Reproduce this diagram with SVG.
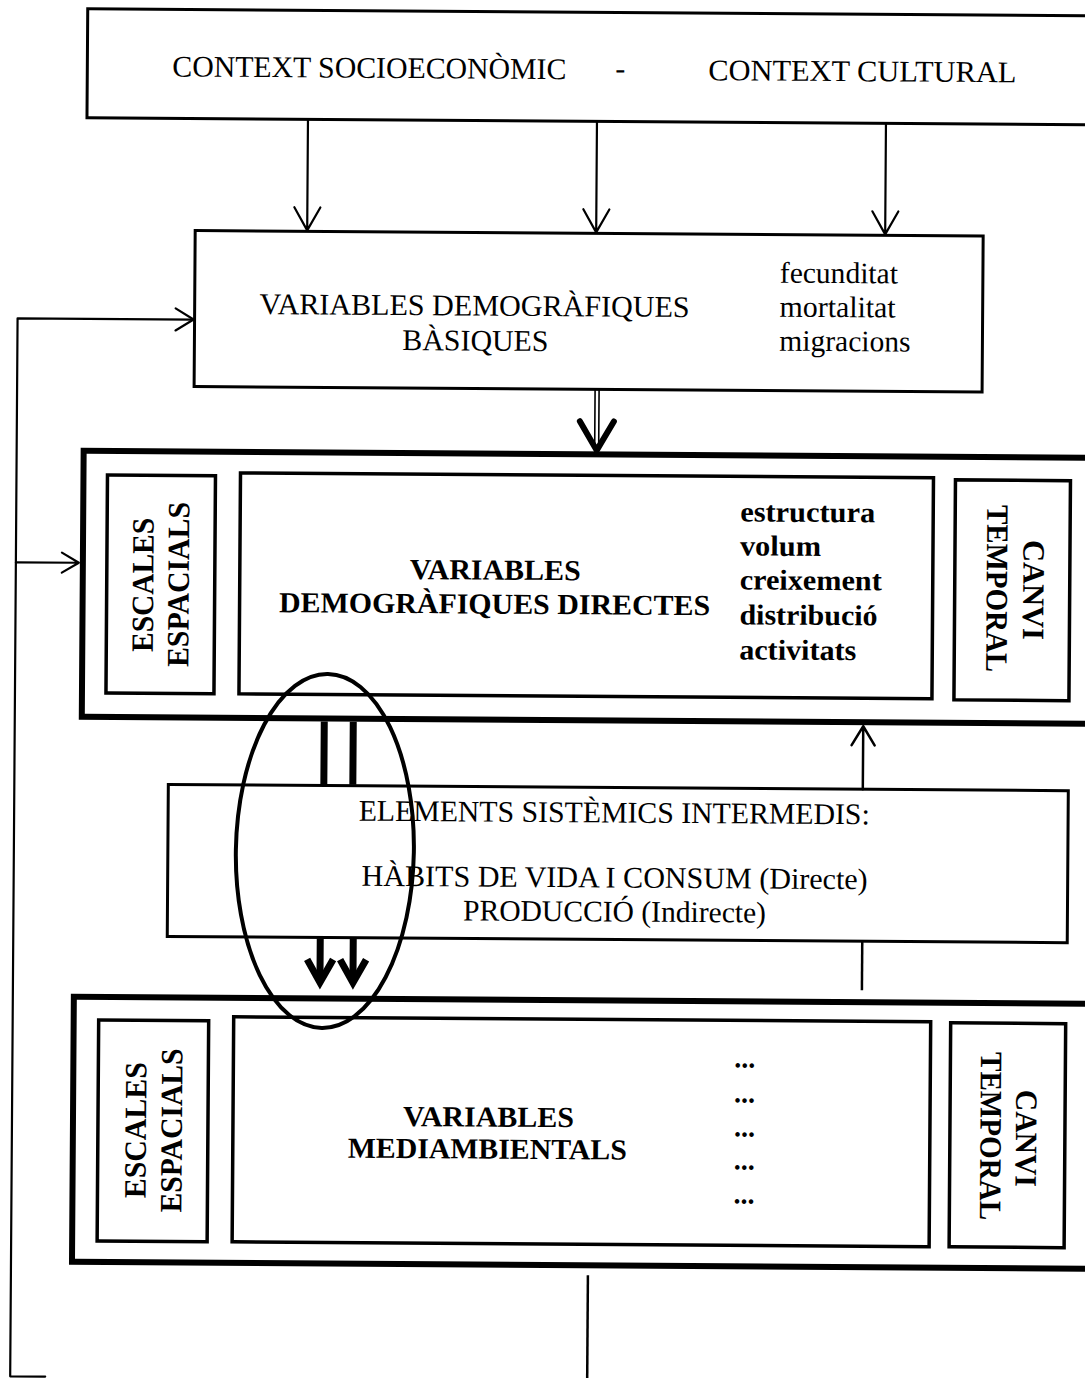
<svg xmlns="http://www.w3.org/2000/svg" width="1085" height="1378" viewBox="0 0 1085 1378">
<style>
.t{font-family:"Liberation Serif","Times New Roman",serif;font-size:30px;fill:#000}
.b{font-weight:bold;font-size:29px}
.r{font-size:31px}
.box{fill:#fff;stroke:#000;stroke-width:3}
.in{fill:#fff;stroke:#000;stroke-width:3.5}
.thick{fill:#fff;stroke:#000;stroke-width:6}
.ln{fill:none;stroke:#000;stroke-width:2.2;stroke-linecap:round;stroke-linejoin:round}
.hv{fill:none;stroke:#000;stroke-width:7;stroke-linecap:butt;stroke-linejoin:miter}
</style>
<rect width="1085" height="1378" fill="#fff"/>
<g transform="rotate(0.4 542 689)">
<g id="context">
<rect class="box" x="83" y="12" width="1020" height="109"/>
<text class="t" x="168" y="79" textLength="394" lengthAdjust="spacingAndGlyphs">CONTEXT SOCIOECONÒMIC</text>
<text class="t" x="616" y="78" text-anchor="middle">-</text>
<text class="t" x="704" y="79" textLength="308" lengthAdjust="spacingAndGlyphs">CONTEXT CULTURAL</text>
</g>
<g id="basiques">
<rect class="box" x="192" y="233" width="788" height="156"/>
<text class="t" x="257" y="316" textLength="430" lengthAdjust="spacingAndGlyphs">VARIABLES DEMOGRÀFIQUES</text>
<text class="t" x="400" y="351" textLength="146" lengthAdjust="spacingAndGlyphs">BÀSIQUES</text>
<text class="t" x="777" y="281" textLength="118" lengthAdjust="spacingAndGlyphs">fecunditat</text>
<text class="t" x="777" y="315" textLength="116" lengthAdjust="spacingAndGlyphs">mortalitat</text>
<text class="t" x="777" y="349" textLength="131" lengthAdjust="spacingAndGlyphs">migracions</text>
</g>
<g id="directes">
<rect class="thick" x="82" y="454" width="1020" height="266"/>
<rect class="in" x="106" y="478" width="108" height="218"/>
<rect class="in" x="239" y="475" width="693" height="221"/>
<rect class="in" x="954" y="477" width="115" height="220"/>
<text class="t b r" transform="translate(152.5 587.7) rotate(-90)" text-anchor="middle" textLength="134" lengthAdjust="spacingAndGlyphs">ESCALES</text>
<text class="t b r" transform="translate(188 587) rotate(-90)" text-anchor="middle" textLength="165" lengthAdjust="spacingAndGlyphs">ESPACIALS</text>
<text class="t b" x="409" y="580" textLength="171" lengthAdjust="spacingAndGlyphs">VARIABLES</text>
<text class="t b" x="278.5" y="614" textLength="431" lengthAdjust="spacingAndGlyphs">DEMOGRÀFIQUES DIRECTES</text>
<text class="t b" x="739" y="520" textLength="135" lengthAdjust="spacingAndGlyphs">estructura</text>
<text class="t b" x="739" y="554" textLength="81" lengthAdjust="spacingAndGlyphs">volum</text>
<text class="t b" x="739" y="588" textLength="142" lengthAdjust="spacingAndGlyphs">creixement</text>
<text class="t b" x="739" y="623" textLength="138" lengthAdjust="spacingAndGlyphs">distribució</text>
<text class="t b" x="739" y="658" textLength="117" lengthAdjust="spacingAndGlyphs">activitats</text>
<text class="t b r" transform="translate(1022.5 586.6) rotate(90)" text-anchor="middle" textLength="100" lengthAdjust="spacingAndGlyphs">CANVI</text>
<text class="t b r" transform="translate(986 585.4) rotate(90)" text-anchor="middle" textLength="167" lengthAdjust="spacingAndGlyphs">TEMPORAL</text>
</g>
<g id="intermedis">
<rect class="box" x="169" y="787" width="900" height="152"/>
<text class="t" x="359.6" y="822" textLength="511" lengthAdjust="spacingAndGlyphs">ELEMENTS SISTÈMICS INTERMEDIS:</text>
<text class="t" x="363" y="887" textLength="506" lengthAdjust="spacingAndGlyphs">HÀBITS DE VIDA I CONSUM (Directe)</text>
<text class="t" x="464.6" y="921" textLength="303" lengthAdjust="spacingAndGlyphs">PRODUCCIÓ (Indirecte)</text>
</g>
<g id="mediambientals">
<rect class="thick" x="76" y="1000" width="1030" height="265"/>
<rect class="in" x="101" y="1023" width="110" height="221"/>
<rect class="in" x="236" y="1019" width="697" height="225"/>
<rect class="in" x="953" y="1020" width="115" height="224"/>
<text class="t b r" transform="translate(149 1133) rotate(-90)" text-anchor="middle" textLength="136" lengthAdjust="spacingAndGlyphs">ESCALES</text>
<text class="t b r" transform="translate(185 1133) rotate(-90)" text-anchor="middle" textLength="164" lengthAdjust="spacingAndGlyphs">ESPACIALS</text>
<text class="t b" x="406" y="1127" textLength="171" lengthAdjust="spacingAndGlyphs">VARIABLES</text>
<text class="t b" x="351" y="1159" textLength="279" lengthAdjust="spacingAndGlyphs">MEDIAMBIENTALS</text>
<text class="t b" x="737" y="1066" textLength="21" lengthAdjust="spacingAndGlyphs">...</text>
<text class="t b" x="737" y="1101" textLength="21" lengthAdjust="spacingAndGlyphs">...</text>
<text class="t b" x="737" y="1135" textLength="21" lengthAdjust="spacingAndGlyphs">...</text>
<text class="t b" x="737" y="1168" textLength="21" lengthAdjust="spacingAndGlyphs">...</text>
<text class="t b" x="737" y="1202" textLength="21" lengthAdjust="spacingAndGlyphs">...</text>
<text class="t b r" transform="translate(1019 1135) rotate(90)" text-anchor="middle" textLength="97" lengthAdjust="spacingAndGlyphs">CANVI</text>
<text class="t b r" transform="translate(983.5 1133) rotate(90)" text-anchor="middle" textLength="168" lengthAdjust="spacingAndGlyphs">TEMPORAL</text>
</g>
<g id="connectors">
<path class="ln" d="M304 121 V232 M291 209 L304 232 L317 209"/>
<path class="ln" d="M593 121 V232 M580 209 L593 232 L606 209"/>
<path class="ln" d="M882 121 V232 M869 209 L882 232 L895 209"/>
<path fill="none" stroke="#000" stroke-width="1.6" d="M593 389 V449 M597 389 V449"/>
<path fill="none" stroke="#000" stroke-width="6" stroke-linecap="round" stroke-linejoin="round" d="M578 421 L595 450 L612 421"/>
<path class="ln" d="M50 1380 H15 V322 H191"/>
<path class="ln" d="M173 311 L191 322 L173 333"/>
<path class="ln" d="M15 566 H78 M61 556 L78 566 L61 576"/>
<path class="hv" d="M324.5 723 V786 M353.5 723 V786"/>
<path class="hv" d="M322 940 V978 M355 940 V978"/>
<path class="hv" d="M309 961 L322 984 L335 961 M342 961 L355 984 L368 961"/>
<path fill="none" stroke="#000" stroke-width="2.5" stroke-linecap="round" stroke-linejoin="round" d="M863.5 787 V724 M852 743 L863.5 724 L875 743"/>
<path fill="none" stroke="#000" stroke-width="2.5" d="M864 939 V988"/>
<path fill="none" stroke="#000" stroke-width="2.5" d="M592 1275 V1380"/>
</g>
<g id="highlight">
<ellipse cx="326" cy="852.5" rx="89" ry="177" transform="rotate(0.6 326 852.5)" fill="none" stroke="#000" stroke-width="4"/>
</g>
</g>
</svg>
